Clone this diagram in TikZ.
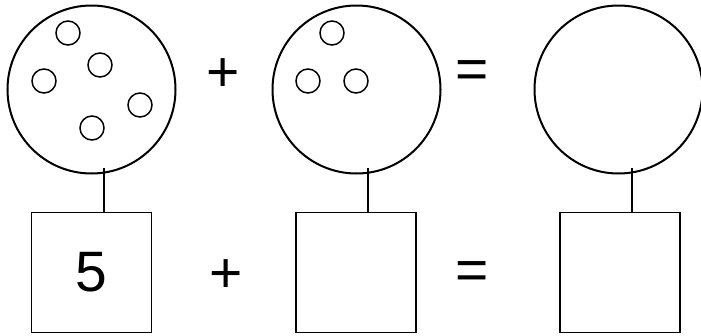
\documentclass[tikz,border=0pt]{standalone}
\usepackage{fontspec}
\setmainfont{Liberation Sans}
\usepackage{tikz}
\usetikzlibrary{calc}

\tikzset{
  bigcirc/.style={draw, circle, line width=2pt, minimum size=168pt, inner sep=0pt},
  smallcirc/.style={draw, circle, line width=1.5pt, minimum size=24pt, inner sep=0pt},
  numbox/.style={draw, rectangle, line width=1.5pt, minimum size=120pt, inner sep=0pt, font=\fontsize{57}{60}\selectfont},
  opsign/.style={font=\fontsize{57}{60}\selectfont, inner sep=0pt},
  link/.style={line width=1.5pt}
}

\begin{document}
\begin{tikzpicture}[x=1pt,y=-1pt]
\useasboundingbox (0,0) rectangle (701,335);
% top row: groups of dots
\node[bigcirc] (c1) at (91.5,89.5) {};
\node[smallcirc] (d11) at (68,33) {};
\node[smallcirc] (d12) at (100,65) {};
\node[smallcirc] (d13) at (44,81) {};
\node[smallcirc] (d14) at (140,105) {};
\node[smallcirc] (d15) at (92,128) {};
\node[opsign] (plustop) at (223,75) {+};
\node[bigcirc] (c2) at (356.5,89.5) {};
\node[smallcirc] (d21) at (332,33) {};
\node[smallcirc] (d22) at (308,81) {};
\node[smallcirc] (d23) at (356,81) {};
\node[opsign] (eqtop) at (472,75) {=};
\node[bigcirc] (c3) at (618.5,89.5) {};
% bottom row: numbers
\node[numbox] (s1) at (91.5,272.5) {5};
\node[opsign] (plusbot) at (226,276) {+};
\node[numbox] (s2) at (356,272.5) {};
\node[opsign] (eqbot) at (472,276) {=};
\node[numbox] (s3) at (620,272.5) {};
% links
\draw[link] ([xshift=12.5pt,yshift=7pt]c1.south) -- ([xshift=12.5pt]s1.north);
\draw[link] ([xshift=11.5pt,yshift=7pt]c2.south) -- ([xshift=12pt]s2.north);
\draw[link] ([xshift=13.5pt,yshift=7pt]c3.south) -- ([xshift=12pt]s3.north);
\end{tikzpicture}
\end{document}
